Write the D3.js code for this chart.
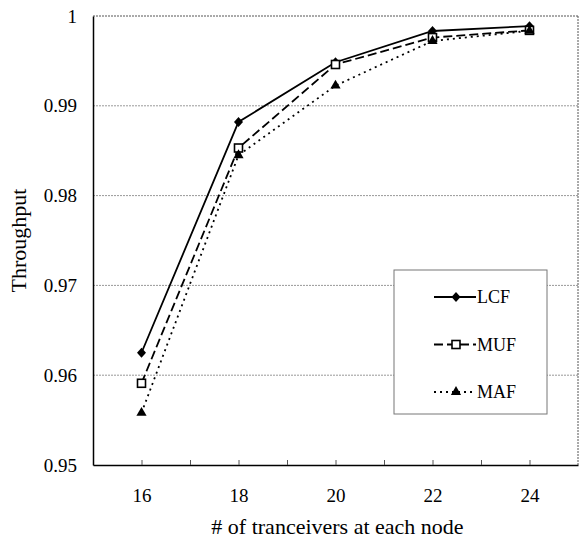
<!DOCTYPE html>
<html lang="en-US">
<head>
    <meta charset="utf-8">
    <script src="https://d3js.org/d3.v7.min.js"></script>
    <style>
        body { margin: 0; background: #fff; }
        text { font-family: "Liberation Serif", "Times New Roman", serif; fill: #000; }
        .grid line { stroke: #999; stroke-dasharray: 2,1; }
    </style>
</head>
<body>
<div id="canvas"></div>
<script>
    var xValues = [16, 18, 20, 22, 24];
    var lcf = [0.96250, 0.98820, 0.99485, 0.99833, 0.99887];
    var muf = [0.95910, 0.98530, 0.99460, 0.99760, 0.99840];
    var maf = [0.95580, 0.98450, 0.99225, 0.99722, 0.99835];
    var yTicks = [0.95, 0.96, 0.97, 0.98, 0.99, 1];
    var xTicks = [16, 17, 18, 19, 20, 21, 22, 23, 24];
    var seriesNames = ["LCF", "MUF", "MAF"];

    var svg = d3.select("#canvas")
        .append("svg")
        .attr("width", 579)
        .attr("height", 540);

    var margin = { top: 16, right: 1, bottom: 75, left: 93 };
    var width = 579 - margin.left - margin.right;
    var height = 540 - margin.top - margin.bottom;

    var x = d3.scaleLinear().domain([15, 25]).range([0, width]);
    var y = d3.scaleLinear().domain([0.95, 1]).range([height, 0]);

    var g = svg.append("g")
        .attr("transform", "translate(" + margin.left + "," + margin.top + ")");

    // horizontal grid
    g.append("g")
        .attr("class", "grid")
        .selectAll("line")
        .data(yTicks.slice(1, 5))
        .enter().append("line")
        .attr("x1", 0).attr("x2", width)
        .attr("y1", function (d) { return y(d); })
        .attr("y2", function (d) { return y(d); });

    // frame: top and right dotted, left and bottom solid
    g.append("line").attr("x1", 0).attr("x2", width).attr("y1", 0).attr("y2", 0)
        .attr("stroke", "#555").attr("stroke-dasharray", "2,1");
    g.append("line").attr("x1", width).attr("x2", width).attr("y1", 0).attr("y2", height)
        .attr("stroke", "#555").attr("stroke-dasharray", "2,1");

    // x axis with inner ticks
    var xAxis = g.append("g")
        .attr("transform", "translate(0," + height + ")")
        .call(d3.axisBottom(x).tickValues(xTicks).tickSizeInner(-5).tickSizeOuter(0)
            .tickFormat(function (d) { return d % 2 === 0 ? d : ""; }));
    xAxis.select(".domain").attr("stroke", "#000").attr("stroke-width", 1.5);
    xAxis.selectAll(".tick line").attr("stroke", "#555");
    xAxis.selectAll("text").attr("font-size", 19).attr("dy", "1.8em");

    var yAxis = g.append("g")
        .call(d3.axisLeft(y).tickValues(yTicks).tickSize(0)
            .tickFormat(function (d) { return d === 1 ? "1" : d3.format(".2f")(d); }));
    yAxis.select(".domain").attr("stroke", "#000").attr("stroke-width", 1.5);
    yAxis.selectAll("text").attr("font-size", 19).attr("x", -16);

    svg.append("text")
        .attr("x", margin.left + width / 2 + 2)
        .attr("y", 534)
        .attr("text-anchor", "middle")
        .attr("font-size", 22)
        .text("# of tranceivers at each node");

    svg.append("text")
        .attr("transform", "translate(26," + (margin.top + height / 2) + ") rotate(-90)")
        .attr("text-anchor", "middle")
        .attr("font-size", 22)
        .text("Throughput");

    var line = d3.line()
        .x(function (d, i) { return x(xValues[i]); })
        .y(function (d) { return y(d); });

    var styles = [
        { data: lcf, dash: null, marker: "diamond" },
        { data: muf, dash: "9,4", marker: "square" },
        { data: maf, dash: "2,4", marker: "triangle" }
    ];

    function drawMarker(sel, type, cx, cy) {
        if (type === "diamond") {
            sel.append("path")
                .attr("d", "M0,-5L4.5,0L0,5L-4.5,0Z")
                .attr("transform", "translate(" + cx + "," + cy + ")")
                .attr("fill", "#000");
        } else if (type === "square") {
            sel.append("rect")
                .attr("x", cx - 4).attr("y", cy - 4)
                .attr("width", 8).attr("height", 8)
                .attr("fill", "#fff").attr("stroke", "#000").attr("stroke-width", 1.6);
        } else {
            sel.append("path")
                .attr("d", d3.symbol().type(d3.symbolTriangle).size(45)())
                .attr("transform", "translate(" + cx + "," + cy + ")")
                .attr("fill", "#000");
        }
    }

    styles.forEach(function (s) {
        g.append("path")
            .datum(s.data)
            .attr("fill", "none")
            .attr("stroke", "#000")
            .attr("stroke-width", 1.8)
            .attr("stroke-dasharray", s.dash)
            .attr("d", line);
        s.data.forEach(function (v, i) {
            drawMarker(g, s.marker, x(xValues[i]), y(v));
        });
    });

    // legend
    var lg = svg.append("g").attr("transform", "translate(394,270)");
    lg.append("rect")
        .attr("width", 153).attr("height", 144)
        .attr("fill", "#fff").attr("stroke", "#777").attr("stroke-width", 1);
    seriesNames.forEach(function (name, i) {
        var cy = 27 + i * 47.5;
        lg.append("line")
            .attr("x1", 40).attr("x2", 82).attr("y1", cy).attr("y2", cy)
            .attr("stroke", "#000").attr("stroke-width", 1.8)
            .attr("stroke-dasharray", styles[i].dash);
        drawMarker(lg, styles[i].marker, 62, cy);
        lg.append("text")
            .attr("x", 83).attr("y", cy + 6)
            .attr("font-size", 18)
            .text(name);
    });
</script>
</body>
</html>
